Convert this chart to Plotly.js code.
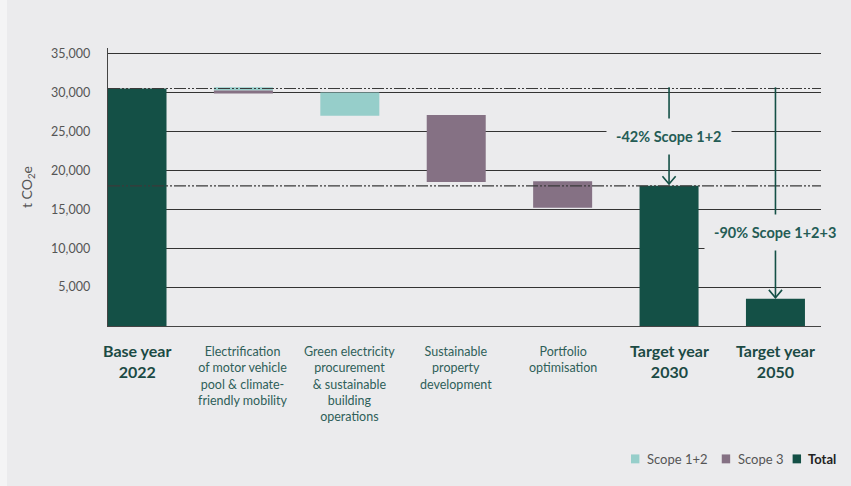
<!DOCTYPE html>
<html>
<head>
<meta charset="utf-8">
<script src="https://cdn.plot.ly/plotly-3.0.1.min.js"></script>
<style>
  html, body { margin: 0; padding: 0; background: #F4F4F5; }
  #chart { position: absolute; left: 7px; top: 0; width: 844px; height: 486px; }
</style>
</head>
<body>
<div id="chart"></div>
<script>
// ---- data ----
const categories = [
  "Base year<br>2022",
  "Electrification<br>of motor vehicle<br>pool & climate-<br>friendly mobility",
  "Green electricity<br>procurement<br>& sustainable<br>building<br>operations",
  "Sustainable<br>property<br>development",
  "Portfolio<br>optimisation",
  "Target year<br>2030",
  "Target year<br>2050"
];
const categoryBold = [true, false, false, false, false, true, true];

const totalIdx = [0, 5, 6];
const totalValues = [30500, 18000, 3500];

const scope12Idx = [1, 2];
const scope12Base = [30250, 27000];
const scope12Values = [400, 3000];

const scope3Idx = [1, 3, 4];
const scope3Base = [29850, 18500, 15200];
const scope3Values = [400, 8600, 3400];

const referenceLines = [30500, 18000];

const arrowTop = 30650;
const arrowIdx = [5, 6];
const arrowTips = [18230, 3640];
const arrowLabels = ["-42% Scope 1+2", "-90% Scope 1+2+3"];
const arrowLabelY = [24300, 11950];

const yTicks = [5000, 10000, 15000, 20000, 25000, 30000, 35000];
const yTickText = ["5,000", "10,000", "15,000", "20,000", "25,000", "30,000", "35,000"];

const legendNames = ["Scope 1+2", "Scope 3", "<b>Total</b>"];

// ---- styles ----
const BG = "#EBEBED";
const C_TEAL = "#96CECA";
const C_PURPLE = "#857184";
const C_GREEN = "#145046";
const legendColors = [C_TEAL, C_PURPLE, C_GREEN];
const legendBoxX = [0.7335, 0.8608, 0.9602];   // paper x of legend squares (left edge)
const BAR_W = 0.5545;
const FONT = "Lato, 'Open Sans', sans-serif";

const traces = [
  {
    type: "bar", name: legendNames[0], x: scope12Idx, y: scope12Values, base: scope12Base,
    width: BAR_W, marker: { color: C_TEAL }, hoverinfo: "skip", showlegend: false
  },
  {
    type: "bar", name: legendNames[1], x: scope3Idx, y: scope3Values, base: scope3Base,
    width: BAR_W, marker: { color: C_PURPLE }, hoverinfo: "skip", showlegend: false
  },
  {
    type: "bar", name: legendNames[2], x: totalIdx, y: totalValues,
    width: BAR_W, marker: { color: C_GREEN }, hoverinfo: "skip", showlegend: false
  }
];

const shapes = [];
referenceLines.forEach(v => shapes.push({
  type: "line", xref: "paper", yref: "y", x0: 0, x1: 1, y0: v, y1: v, layer: "above",
  line: { color: "#3a3a3a", width: 1.2, dash: "12px,2px,2px,2px,2px,2px" }
}));
const chevW = 0.062, chevH = 1000;
arrowIdx.forEach((xi, i) => {
  shapes.push({
    type: "line", xref: "x", yref: "y", x0: xi, x1: xi, y0: arrowTop, y1: arrowTips[i], layer: "above",
    line: { color: C_GREEN, width: 1.6 }
  });
  shapes.push({
    type: "path", xref: "x", yref: "y", layer: "above",
    path: `M ${xi - chevW},${arrowTips[i] + chevH} L ${xi},${arrowTips[i]} L ${xi + chevW},${arrowTips[i] + chevH}`,
    line: { color: C_GREEN, width: 1.6 }
  });
});
// legend squares
const boxW = 0.0118, legY = -0.478, boxH = 0.032;
legendColors.forEach((c, i) => shapes.push({
  type: "rect", xref: "paper", yref: "paper",
  x0: legendBoxX[i], x1: legendBoxX[i] + boxW, y0: legY - boxH / 2, y1: legY + boxH / 2,
  fillcolor: c, line: { width: 0 }
}));

const annotations = [];
categories.forEach((c, i) => {
  const bold = categoryBold[i];
  annotations.push({
    x: i, xref: "x", y: bold ? -0.046 : -0.058, yref: "paper", yanchor: "top", xanchor: "center",
    text: bold ? "<b>" + c + "</b>" : c, showarrow: false, align: "center",
    font: { family: FONT, size: bold ? 16 : 12.5, color: bold ? "#1B4A44" : "#2F5F59" }
  });
});
arrowLabels.forEach((t, i) => {
  annotations.push({
    x: arrowIdx[i], xref: "x", y: arrowLabelY[i], yref: "y", text: "<b>" + t + "</b>",
    showarrow: false, bgcolor: BG, borderpad: 9,
    font: { family: FONT, size: 14.5, color: "#245C55" }
  });
});
legendNames.forEach((n, i) => {
  annotations.push({
    x: legendBoxX[i] + boxW + 0.0075, xref: "paper", y: legY, yref: "paper",
    xanchor: "left", yanchor: "middle", text: n, showarrow: false,
    font: { family: FONT, size: 13, color: i === 2 ? "#222" : "#555" }
  });
});

const layout = {
  width: 844, height: 486,
  margin: { l: 101, r: 30, t: 48, b: 160 },
  paper_bgcolor: BG, plot_bgcolor: BG,
  barmode: "overlay",
  font: { family: FONT },
  xaxis: {
    range: [-0.2726, 6.428], showgrid: false, zeroline: false, showticklabels: false,
    showline: true, linecolor: "#444", linewidth: 1.3, fixedrange: true
  },
  yaxis: {
    range: [0, 35700], tickvals: yTicks, ticktext: yTickText,
    showgrid: true, gridcolor: "#333", gridwidth: 1, zeroline: false,
    showline: true, linecolor: "#444", linewidth: 1.3,
    ticks: "", ticklabelstandoff: 14,
    tickfont: { family: FONT, size: 12.5, color: "#555" },
    title: { text: "t CO<sub>2</sub>e", standoff: 15, font: { family: FONT, size: 14, color: "#555" } }
  },
  showlegend: false,
  shapes: shapes,
  annotations: annotations
};

Plotly.newPlot("chart", traces, layout, { displayModeBar: false, staticPlot: true });
</script>
</body>
</html>
